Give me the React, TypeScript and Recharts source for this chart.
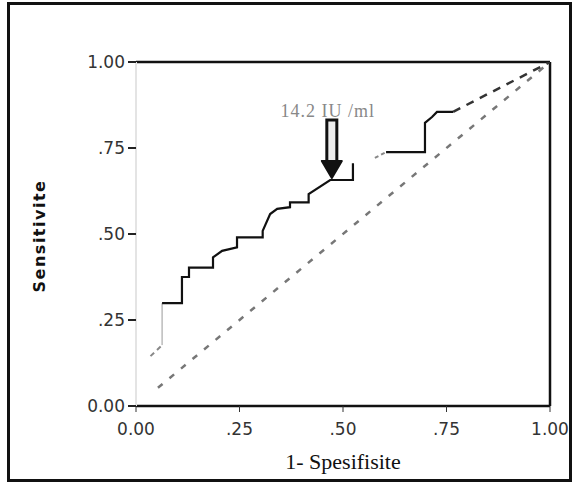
import React from 'react';
import {
  LineChart,
  Line,
  XAxis,
  YAxis,
  ReferenceLine,
  ReferenceDot,
} from 'recharts';

// Axis ticks
const axisTicks = [0, 0.25, 0.5, 0.75, 1];
const tickLabels = ['0.00', '.25', '.50', '.75', '1.00'];

// ROC curve (1 - specificity, sensitivity)
const startFpr = [0.035, 0.063];
const startTpr = [0.145, 0.177];

const riseFpr = [0.063, 0.063];
const riseTpr = [0.177, 0.299];

const lowerFpr = [0.063, 0.111, 0.111, 0.128, 0.128, 0.186, 0.186, 0.208, 0.244, 0.244, 0.306, 0.306, 0.324, 0.341, 0.372, 0.372, 0.417, 0.417, 0.469, 0.524, 0.524];
const lowerTpr = [0.299, 0.299, 0.375, 0.375, 0.402, 0.402, 0.432, 0.451, 0.461, 0.49, 0.49, 0.509, 0.558, 0.573, 0.578, 0.592, 0.592, 0.616, 0.657, 0.657, 0.706];

const gapFpr = [0.577, 0.604];
const gapTpr = [0.721, 0.738];

const upperFpr = [0.604, 0.698, 0.698, 0.715, 0.727, 0.766];
const upperTpr = [0.738, 0.738, 0.823, 0.84, 0.855, 0.855];

const tailFpr = [0.766, 1];
const tailTpr = [0.855, 1];

// chance diagonal
const diagFpr = [0.053, 1];
const diagTpr = [0.053, 1];

// cut-off annotation
const cutoffLabel = '14.2 IU /ml';
const cutoffFpr = 0.473;
const cutoffTpr = 0.663;

const toPoints = (xs: number[], ys: number[]) => xs.map((x, i) => ({ x, y: ys[i] }));

const fmtTick = (v: number) => tickLabels[axisTicks.indexOf(v)] ?? String(v);

function CutoffArrow(props: { cx?: number; cy?: number }) {
  const cx = props.cx ?? 0;
  const cy = props.cy ?? 0;
  return (
    <g>
      <text
        x={cx - 4}
        y={cy - 61}
        textAnchor="middle"
        fontFamily="Liberation Serif"
        fontSize={18}
        letterSpacing={1}
        fill="#888"
      >
        {cutoffLabel}
      </text>
      <path
        d={`M${cx - 5},${cy - 58} L${cx + 5},${cy - 58} L${cx + 5},${cy - 16} L${cx - 5},${cy - 16} Z`}
        fill="#eee"
        stroke="#111"
        strokeWidth={3}
      />
      <path
        d={`M${cx - 10},${cy - 17} L${cx + 10},${cy - 17} L${cx},${cy} Z`}
        fill="#111"
        stroke="#111"
        strokeWidth={2}
        strokeLinejoin="round"
      />
    </g>
  );
}

function YLabel() {
  return (
    <text
      x={40}
      y={236}
      transform="rotate(-90 40 236)"
      textAnchor="middle"
      dominantBaseline="middle"
      fontFamily="DejaVu Sans"
      fontWeight="bold"
      fontSize={16}
      letterSpacing={1.5}
      fill="#111"
    >
      Sensitivite
    </text>
  );
}

const tickStyle = { fill: '#333', fontSize: 17, fontFamily: 'DejaVu Sans' };

export default function App() {
  return (
    <div
      style={{
        position: 'absolute',
        left: 0,
        top: 0,
        width: 576,
        height: 485,
        background: '#fff',
      }}
    >
      <div
        style={{
          position: 'absolute',
          left: 7,
          top: 2,
          width: 565,
          height: 480,
          border: '3px solid #111',
          boxSizing: 'border-box',
        }}
      />
      <div style={{ position: 'absolute', left: 0, top: 0 }}>
        <LineChart width={576} height={485} margin={{ top: 62, right: 26, left: 76, bottom: 39 }}>
          <XAxis
            dataKey="x"
            type="number"
            domain={[0, 1]}
            ticks={axisTicks}
            tickFormatter={fmtTick}
            tick={tickStyle}
            tickSize={6}
            tickMargin={11}
            tickLine={{ stroke: '#333' }}
            axisLine={{ stroke: '#111', strokeWidth: 2.5 }}
            height={40}
            allowDataOverflow
            label={{
              value: '1- Spesifisite',
              position: 'bottom',
              offset: 7,
              fill: '#111',
              fontSize: 22,
              fontFamily: 'Liberation Serif',
            }}
          />
          <YAxis
            dataKey="y"
            type="number"
            domain={[0, 1]}
            ticks={axisTicks}
            tickFormatter={fmtTick}
            tick={tickStyle}
            tickSize={8}
            tickMargin={3}
            tickLine={{ stroke: '#222', strokeWidth: 2 }}
            axisLine={{ stroke: '#e4e4e4', strokeWidth: 2 }}
            width={60}
            allowDataOverflow
            label={{ content: () => <YLabel /> }}
          />
          <ReferenceLine y={1} stroke="#111" strokeWidth={2.5} />
          <ReferenceLine x={1} stroke="#111" strokeWidth={2.5} />
          <Line
            data={toPoints(diagFpr, diagTpr)}
            dataKey="y"
            type="linear"
            stroke="#777"
            strokeWidth={2.5}
            strokeDasharray="6 9"
            dot={false}
            isAnimationActive={false}
          />
          <Line
            data={toPoints(startFpr, startTpr)}
            dataKey="y"
            type="linear"
            stroke="#888"
            strokeWidth={2}
            strokeDasharray="5 4"
            dot={false}
            isAnimationActive={false}
          />
          <Line
            data={toPoints(riseFpr, riseTpr)}
            dataKey="y"
            type="linear"
            stroke="#999"
            strokeWidth={1}
            dot={false}
            isAnimationActive={false}
          />
          <Line
            data={toPoints(lowerFpr, lowerTpr)}
            dataKey="y"
            type="linear"
            stroke="#111"
            strokeWidth={2.2}
            dot={false}
            isAnimationActive={false}
          />
          <Line
            data={toPoints(gapFpr, gapTpr)}
            dataKey="y"
            type="linear"
            stroke="#888"
            strokeWidth={2}
            strokeDasharray="4 3"
            dot={false}
            isAnimationActive={false}
          />
          <Line
            data={toPoints(upperFpr, upperTpr)}
            dataKey="y"
            type="linear"
            stroke="#111"
            strokeWidth={2.2}
            dot={false}
            isAnimationActive={false}
          />
          <Line
            data={toPoints(tailFpr, tailTpr)}
            dataKey="y"
            type="linear"
            stroke="#333"
            strokeWidth={2.5}
            strokeDasharray="8 7"
            dot={false}
            isAnimationActive={false}
          />
          <ReferenceDot x={cutoffFpr} y={cutoffTpr} shape={<CutoffArrow />} />
        </LineChart>
      </div>
    </div>
  );
}
